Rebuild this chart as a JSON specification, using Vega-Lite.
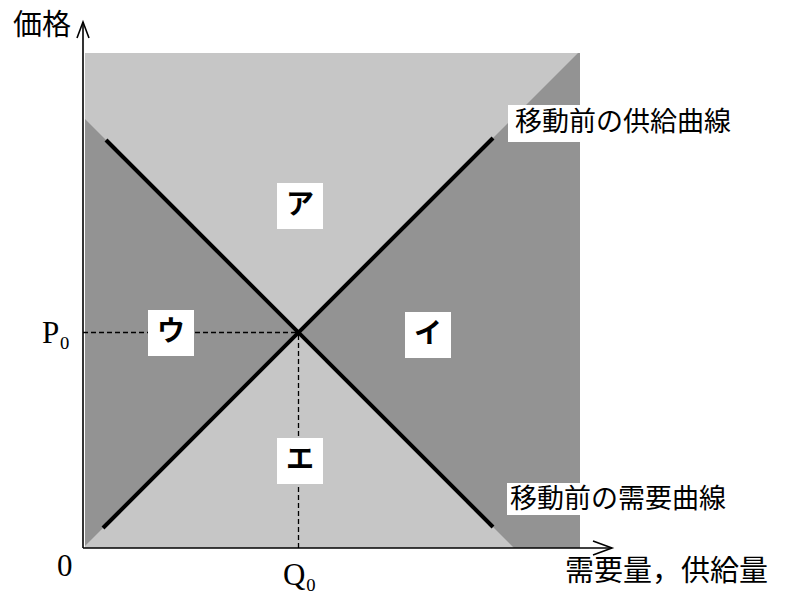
{
  "$schema": "https://vega.github.io/schema/vega-lite/v6.json",
  "width": 798,
  "height": 593,
  "autosize": {"type": "fit", "contains": "padding"},
  "padding": 0,
  "background": "white",
  "config": {"view": {"stroke": null}},
  "datasets": {
    "bg": [{"q": 2, "q2": 497, "p": 0, "p2": 495}],
    "dark": [
      {"region": "ウ", "q": 2, "p": 2, "p2": 429},
      {"region": "ウ", "q": 215.5, "p": 215.5, "p2": 215.5},
      {"region": "イ", "q": 215.5, "p": 215.5, "p2": 215.5},
      {"region": "イ", "q": 431, "p": 0, "p2": 431},
      {"region": "イ", "q": 495, "p": 0, "p2": 495},
      {"region": "イ", "q": 497, "p": 0, "p2": 495}
    ],
    "labelbg": [
      {"q": 425, "q2": 497, "p": 406, "p2": 443},
      {"q": 424, "q2": 497, "p": 33, "p2": 65}
    ],
    "dashes": [
      {"q": 0, "q2": 215.5, "p": 215.5, "p2": 215.5},
      {"q": 215.5, "q2": 215.5, "p": 0, "p2": 215.5}
    ],
    "curves": [
      {"curve": "供給曲線", "q": 20, "p": 20, "q2": 410, "p2": 410},
      {"curve": "需要曲線", "q": 23, "p": 408, "q2": 410, "p2": 21}
    ],
    "axes": [
      {"q": 0, "p": 0, "q2": 0, "p2": 526},
      {"q": 0, "p": 0, "q2": 529, "p2": 0}
    ],
    "arrows": [
      {"arrow": "y", "i": 0, "q": -6, "p": 510},
      {"arrow": "y", "i": 1, "q": 0, "p": 526},
      {"arrow": "y", "i": 2, "q": 6, "p": 510},
      {"arrow": "x", "i": 0, "q": 510, "p": 7},
      {"arrow": "x", "i": 1, "q": 529, "p": 0},
      {"arrow": "x", "i": 2, "q": 510, "p": -7}
    ],
    "letters": [
      {"label": "ア", "q": 217, "p": 342},
      {"label": "ウ", "q": 88, "p": 215},
      {"label": "イ", "q": 345, "p": 213},
      {"label": "エ", "q": 217, "p": 87}
    ],
    "serif": [
      {"label": "P₀", "q": -41, "p": 214},
      {"label": "0", "q": -26, "p": -19},
      {"label": "Q₀", "q": 200, "p": -28}
    ],
    "curvelabels": [
      {"label": "移動前の供給曲線", "q": 432, "p": 425},
      {"label": "移動前の需要曲線", "q": 427, "p": 48}
    ],
    "ytitle": [{"label": "価格", "q": -70, "p": 522}],
    "xtitle": [{"label": "需要量，供給量", "q": 482, "p": -24}]
  },
  "encoding": {
    "x": {"field": "q", "type": "quantitative", "axis": null, "scale": {"domain": [-83, 715], "nice": false, "zero": false}},
    "y": {"field": "p", "type": "quantitative", "axis": null, "scale": {"domain": [-45, 548], "nice": false, "zero": false}}
  },
  "layer": [
    {
      "data": {"name": "bg"},
      "mark": {"type": "rect", "color": "#c6c6c6"},
      "encoding": {"x2": {"field": "q2"}, "y2": {"field": "p2"}}
    },
    {
      "data": {"name": "dark"},
      "mark": {"type": "area", "orient": "vertical", "color": "#939393", "opacity": 1},
      "encoding": {"y2": {"field": "p2"}, "detail": {"field": "region"}}
    },
    {
      "data": {"name": "labelbg"},
      "mark": {"type": "rect", "color": "white"},
      "encoding": {"x2": {"field": "q2"}, "y2": {"field": "p2"}}
    },
    {
      "data": {"name": "dashes"},
      "mark": {"type": "rule", "color": "black", "strokeWidth": 1.3, "strokeDash": [5, 3]},
      "encoding": {"x2": {"field": "q2"}, "y2": {"field": "p2"}}
    },
    {
      "data": {"name": "curves"},
      "mark": {"type": "rule", "color": "black", "strokeWidth": 4, "strokeCap": "butt"},
      "encoding": {"x2": {"field": "q2"}, "y2": {"field": "p2"}}
    },
    {
      "data": {"name": "axes"},
      "mark": {"type": "rule", "color": "black", "strokeWidth": 1.6},
      "encoding": {"x2": {"field": "q2"}, "y2": {"field": "p2"}}
    },
    {
      "data": {"name": "arrows"},
      "mark": {"type": "line", "color": "black", "strokeWidth": 1.6},
      "encoding": {"detail": {"field": "arrow"}, "order": {"field": "i", "type": "quantitative"}}
    },
    {
      "data": {"name": "letters"},
      "mark": {"type": "square", "size": 2116, "filled": true, "color": "white", "opacity": 1}
    },
    {
      "data": {"name": "letters"},
      "mark": {"type": "text", "font": "Noto Sans CJK JP", "fontSize": 28, "fontWeight": "bold", "color": "black", "align": "center", "baseline": "middle"},
      "encoding": {"text": {"field": "label"}}
    },
    {
      "data": {"name": "serif"},
      "mark": {"type": "text", "font": "Liberation Serif", "fontSize": 31, "color": "black", "align": "left", "baseline": "middle"},
      "encoding": {"text": {"field": "label"}}
    },
    {
      "data": {"name": "curvelabels"},
      "mark": {"type": "text", "font": "Noto Sans CJK JP", "fontSize": 27, "color": "black", "align": "left", "baseline": "middle"},
      "encoding": {"text": {"field": "label"}}
    },
    {
      "data": {"name": "ytitle"},
      "mark": {"type": "text", "font": "Noto Sans CJK JP", "fontSize": 29, "color": "black", "align": "left", "baseline": "middle"},
      "encoding": {"text": {"field": "label"}}
    },
    {
      "data": {"name": "xtitle"},
      "mark": {"type": "text", "font": "Noto Sans CJK JP", "fontSize": 29, "color": "black", "align": "left", "baseline": "middle"},
      "encoding": {"text": {"field": "label"}}
    }
  ]
}
